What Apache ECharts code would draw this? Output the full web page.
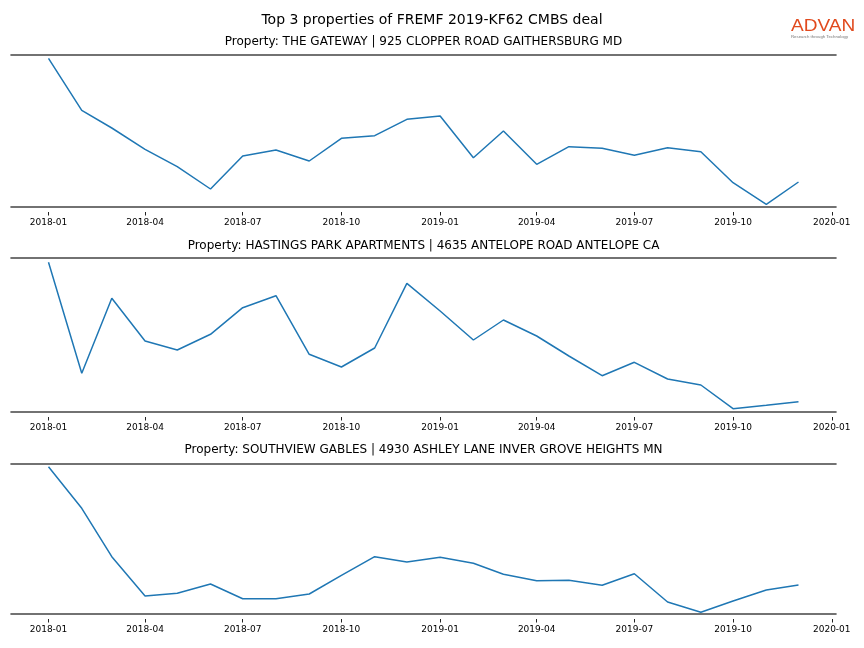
<!DOCTYPE html>
<html>
<head>
<meta charset="utf-8">
<script src="https://cdn.jsdelivr.net/npm/echarts@6/dist/echarts.min.js"></script>
<style>
html,body{margin:0;padding:0;background:#fff;}
#chart{width:864px;height:648px;}
</style>
</head>
<body>
<div id="chart"></div>
<script>
// Months 2018-01 .. 2019-12
const months = [
  '2018-01','2018-02','2018-03','2018-04','2018-05','2018-06','2018-07','2018-08','2018-09','2018-10','2018-11','2018-12',
  '2019-01','2019-02','2019-03','2019-04','2019-05','2019-06','2019-07','2019-08','2019-09','2019-10','2019-11','2019-12'
];
const tickLabels = ['2018-01','2018-04','2018-07','2018-10','2019-01','2019-04','2019-07','2019-10','2020-01'];

const mainTitle = 'Top 3 properties of FREMF 2019-KF62 CMBS deal';
const titles = [
  'Property: THE GATEWAY | 925 CLOPPER ROAD GAITHERSBURG MD',
  'Property: HASTINGS PARK APARTMENTS | 4635 ANTELOPE ROAD ANTELOPE CA',
  'Property: SOUTHVIEW GABLES | 4930 ASHLEY LANE INVER GROVE HEIGHTS MN'
];

// relative activity values (no y scale shown in the reference)
const gateway = [148.7, 96.7, 79, 57.7, 40.3, 18, 51, 57, 46, 68.7, 71.3, 87.7,
                 91, 49.3, 76, 42.7, 60.3, 58.7, 51.7, 59.3, 55.3, 24.3, 2.7, 25];
const hastings = [149.7, 38.7, 113.7, 71, 62, 77.7, 104.3, 116.3, 57.7, 45, 64, 128.7,
                  101, 72, 92, 76, 56, 36.3, 49.7, 33, 27, 3.3, 6.7, 10.3];
const southview = [147.3, 105.7, 57.3, 18, 20.7, 30, 15.3, 15.3, 20, 38.7, 57.3, 52,
                   56.7, 50.7, 39.7, 33.3, 33.7, 28.7, 40.3, 12, 1.7, 13, 24, 29];

const seriesValues = [gateway, hastings, southview];
const yMax = [152, 154, 150];

function toTs(s){ const p = s.split('-'); return Date.UTC(+p[0], +p[1]-1, 1); }
const xs = months.map(toTs);
const span = xs[xs.length-1] - xs[0];
const xMin = xs[0] - 0.05*span;
const xMax = xs[xs.length-1] + 0.05*span;
const tickTs = tickLabels.map(toTs);

const grids = [
  {left: 11, right: 28, top: 55, height: 152},
  {left: 11, right: 28, top: 258, height: 154},
  {left: 11, right: 28, top: 464, height: 150}
];

const FONT = 'DejaVu Sans';
const spineColor = '#444444';
function fmt(v){ const d=new Date(v); const m=d.getUTCMonth()+1; return d.getUTCFullYear()+'-'+(m<10?'0':'')+m; }

const xAxis = [], yAxis = [], series = [];
grids.forEach((g, i) => {
  xAxis.push({type:'value', gridIndex:i, min:xMin, max:xMax, position:'bottom', scale:true,
    axisLine:{show:true, lineStyle:{color:spineColor, width:1.6}},
    axisTick:{show:false}, axisLabel:{show:false}, splitLine:{show:false}});
  xAxis.push({type:'value', gridIndex:i, min:xMin, max:xMax, position:'bottom', offset:5, scale:true,
    axisLine:{show:false},
    axisTick:{show:true, length:3.5, customValues:tickTs, lineStyle:{color:'#222', width:1}},
    axisLabel:{show:true, customValues:tickTs, margin:6, fontFamily:FONT, fontSize:9, color:'#000',
      formatter:fmt},
    splitLine:{show:false}});
  xAxis.push({type:'value', gridIndex:i, min:xMin, max:xMax, position:'top', scale:true,
    axisLine:{show:true, lineStyle:{color:spineColor, width:1.6}},
    axisTick:{show:false}, axisLabel:{show:false}, splitLine:{show:false}});
  yAxis.push({type:'value', gridIndex:i, min:0, max:yMax[i], show:false, splitLine:{show:false}});
  series.push({type:'line', xAxisIndex:i*3, yAxisIndex:i, showSymbol:false, symbol:'none',
    lineStyle:{color:'#1f77b4', width:1.5}, itemStyle:{color:'#1f77b4'},
    data: xs.map((t,k)=>[t, seriesValues[i][k]]), animation:false});
});

const titleTops = [36, 240, 444];
const title = [{text: mainTitle, left:'center', top:8,
  textStyle:{fontFamily:FONT, fontSize:14, fontWeight:'normal', color:'#000'}}];
titles.forEach((t,i)=>title.push({text:t, left:423.5, textAlign:'center', padding:0, top:titleTops[i],
  textStyle:{fontFamily:FONT, fontSize:12, fontWeight:'normal', color:'#000'}}));

const chart = echarts.init(document.getElementById('chart'), null, {renderer:'canvas'});
chart.setOption({
  animation: false,
  backgroundColor: '#ffffff',
  title: title,
  grid: grids,
  xAxis: xAxis,
  yAxis: yAxis,
  series: series,
  graphic: [
    {type:'text', left:791, top:18, style:{text:'ADVAN', fill:'#e14a1e', font:'500 17px "Liberation Sans"'}, scaleX:1.12},
    {type:'text', left:791, top:35, style:{text:'Research through Technology', fill:'#777', font:'4.3px "Liberation Sans"'}}
  ]
});
</script>
</body>
</html>
